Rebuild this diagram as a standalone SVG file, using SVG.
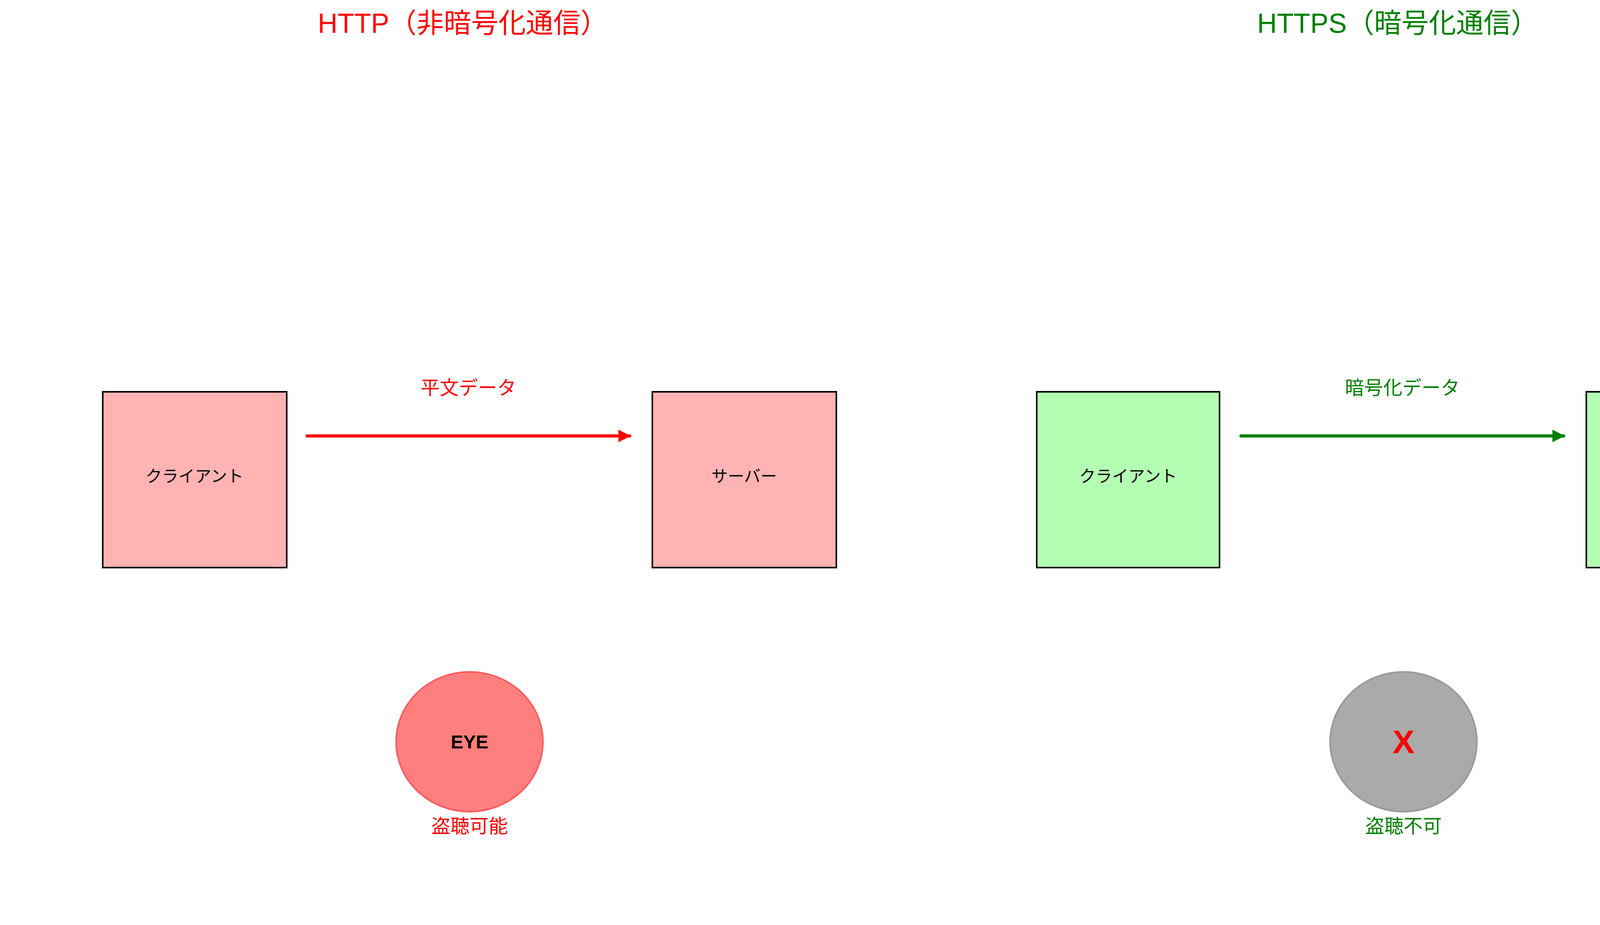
<svg xmlns="http://www.w3.org/2000/svg" width="4770" height="2368" viewBox="0 0 4770 2368">
<style>
text{font-family:"Liberation Sans","Noto Sans CJK JP",sans-serif;text-anchor:middle}
.box{stroke:#000;stroke-width:4}
.r{fill:#ffb3b3}.g{fill:#b3ffb3}
.bt{font-size:42px;fill:#000}
.lr{fill:#ff0000}.lg{fill:#008000}
</style>
<defs>
<marker id="ar" viewBox="0 0 10 10" refX="9" refY="5" markerWidth="4" markerHeight="4" orient="auto"><path d="M0,0L10,5L0,10z" fill="#ff0000"/></marker>
<marker id="ag" viewBox="0 0 10 10" refX="9" refY="5" markerWidth="4" markerHeight="4" orient="auto"><path d="M0,0L10,5L0,10z" fill="#008000"/></marker>
</defs>
<rect width="4770" height="2368" fill="#fff"/>
<text x="1185" y="84" font-size="70" class="lr">HTTP（非暗号化通信）</text>
<text x="3578" y="84" font-size="70" class="lg">HTTPS（暗号化通信）</text>
<g id="client1"><rect class="box r" x="263" y="1003" width="471" height="450"/><text class="bt" x="498" y="1234">クライアント</text></g>
<g id="server1"><rect class="box r" x="1670" y="1003" width="471" height="450"/><text class="bt" x="1905" y="1234">サーバー</text></g>
<g id="client2"><rect class="box g" x="2654" y="1003" width="468" height="450"/><text class="bt" x="2888" y="1234">クライアント</text></g>
<g id="server2"><rect class="box g" x="4061" y="1003" width="468" height="450"/><text class="bt" x="4295" y="1234">サーバー</text></g>
<g id="connectors">
<line x1="786" y1="1116" x2="1612" y2="1116" stroke="#ff0000" stroke-width="8" stroke-linecap="round" marker-end="url(#ar)"/>
<line x1="3177" y1="1116" x2="4003" y2="1116" stroke="#008000" stroke-width="8" stroke-linecap="round" marker-end="url(#ag)"/>
<text x="1199" y="1010" font-size="49" class="lr">平文データ</text>
<text x="3590" y="1010" font-size="49" class="lg">暗号化データ</text>
</g>
<g id="eye"><ellipse cx="1202" cy="1899" rx="188" ry="179" fill="#ff7f7f" stroke="#ff5a5a" stroke-width="4"/><text x="1202" y="1916" font-size="48" font-weight="bold" fill="#000">EYE</text><text x="1202" y="2132" font-size="49" class="lr">盗聴可能</text></g>
<g id="blocked"><ellipse cx="3593" cy="1899" rx="188" ry="179" fill="#aaaaaa" stroke="#999" stroke-width="4"/><text x="3593" y="1928" font-size="84" font-weight="bold" fill="#ff0000">X</text><text x="3593" y="2132" font-size="49" class="lg">盗聴不可</text></g>
</svg>
